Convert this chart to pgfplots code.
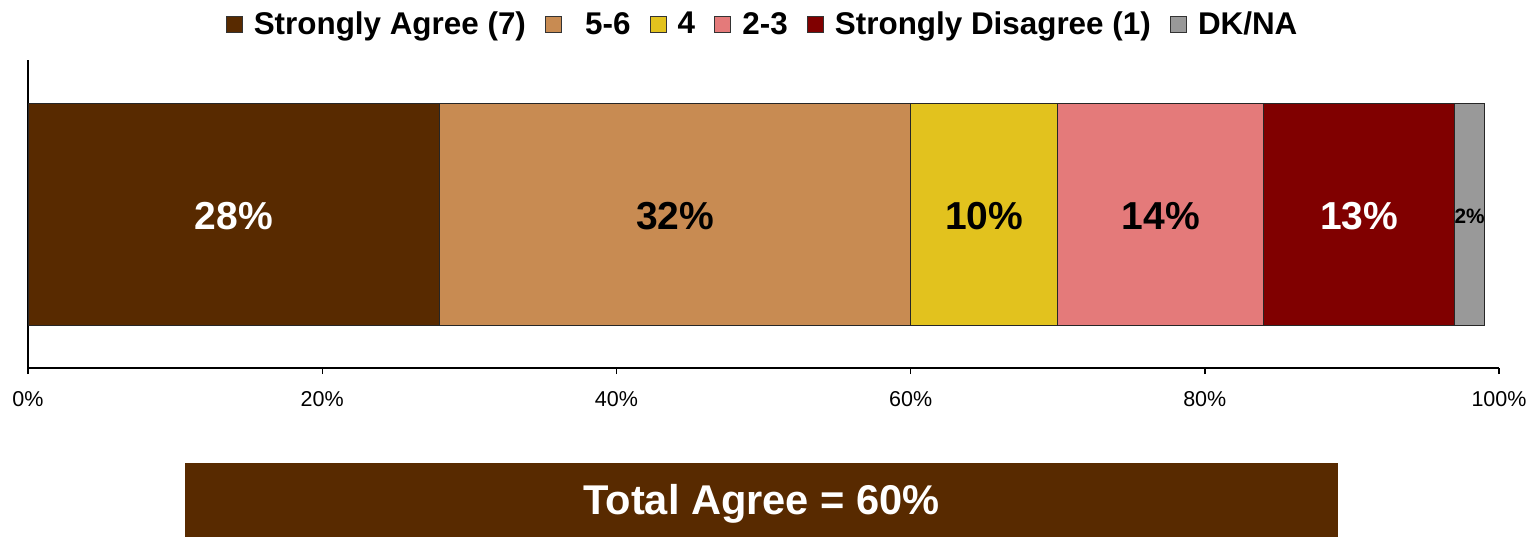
\documentclass[border=0pt]{standalone}
\usepackage{fontspec}
\setmainfont{Liberation Sans}
\usepackage{pgfplots}
\pgfplotsset{compat=1.18}
\definecolor{cBrown}{RGB}{88,42,0}
\definecolor{cTan}{RGB}{200,139,82}
\definecolor{cYellow}{RGB}{226,194,30}
\definecolor{cPink}{RGB}{228,122,122}
\definecolor{cRed}{RGB}{128,0,0}
\definecolor{cGray}{RGB}{153,153,153}
\pgfplotsset{
  myleg/.style={legend image code/.code={\draw[##1,draw=black!80,line width=0.6pt] (0pt,-4pt) rectangle (8pt,4pt);}},
  segstyle/.style={fill=#1, draw=black!85, line width=0.5pt, myleg},
  lab/.style={draw=none, mark=none, nodes near coords={#1}, nodes near coords style={anchor=center, yshift=-1pt, font=\fontsize{19.5pt}{22pt}\selectfont\bfseries}},
}
\begin{document}
\begin{tikzpicture}
\path[use as bounding box] (0,0) rectangle (766pt,-268.5pt);
\begin{axis}[
  at={(14pt,-184pt)}, anchor=south west,
  scale only axis, width=735.5pt, height=154pt,
  xbar stacked, bar width=111pt,
  xmin=0, xmax=100, ymin=0, ymax=2,
  axis x line*=bottom, axis y line*=left,
  axis line style={black, line width=0.7pt},
  ytick=\empty,
  xtick={0,20,40,60,80,100},
  xticklabels={0\%,20\%,40\%,60\%,80\%,100\%},
  tick align=outside, major tick length=3pt,
  tick style={black, line width=0.7pt},
  xticklabel style={font=\fontsize{10.75pt}{12pt}\selectfont, yshift=-5pt},
  legend columns=6,
  legend style={draw=none, at={(0.5,1.115)}, anchor=center,
    font=\fontsize{15.7pt}{18pt}\selectfont\bfseries,
    /tikz/every even column/.append style={column sep=7.5pt},
    /tikz/every odd column/.append style={column sep=3.5pt},
    inner sep=0pt},
]
\addplot[segstyle=cBrown] coordinates {(28,1)};
\addplot[segstyle=cTan] coordinates {(32,1)};
\addplot[segstyle=cYellow] coordinates {(10,1)};
\addplot[segstyle=cPink] coordinates {(14,1)};
\addplot[segstyle=cRed] coordinates {(13,1)};
\addplot[segstyle=cGray] coordinates {(2,1)};
\legend{Strongly Agree (7),\hspace{6pt}5-6,4,2-3,Strongly Disagree (1),DK/NA}
\end{axis}
\begin{axis}[
  at={(14pt,-184pt)}, anchor=south west,
  scale only axis, width=735.5pt, height=154pt,
  xmin=0, xmax=100, ymin=0, ymax=2, hide axis,
]
\addplot[lab={28\%}, nodes near coords style={white}] coordinates {(14,1)};
\addplot[lab={32\%}, nodes near coords style={black}] coordinates {(44,1)};
\addplot[lab={10\%}, nodes near coords style={black}] coordinates {(65,1)};
\addplot[lab={14\%}, nodes near coords style={black}] coordinates {(77,1)};
\addplot[lab={13\%}, nodes near coords style={white}] coordinates {(90.5,1)};
\addplot[lab={2\%}, nodes near coords style={black, font=\fontsize{10.4pt}{12pt}\selectfont\bfseries}] coordinates {(98,1)};
\end{axis}
\fill[cBrown] (92.5pt,-231.5pt) rectangle (669pt,-268.5pt);
\node[white, font=\fontsize{20.8pt}{24pt}\selectfont\bfseries] at (380.75pt,-252pt) {Total Agree = 60\%};
\end{tikzpicture}
\end{document}
